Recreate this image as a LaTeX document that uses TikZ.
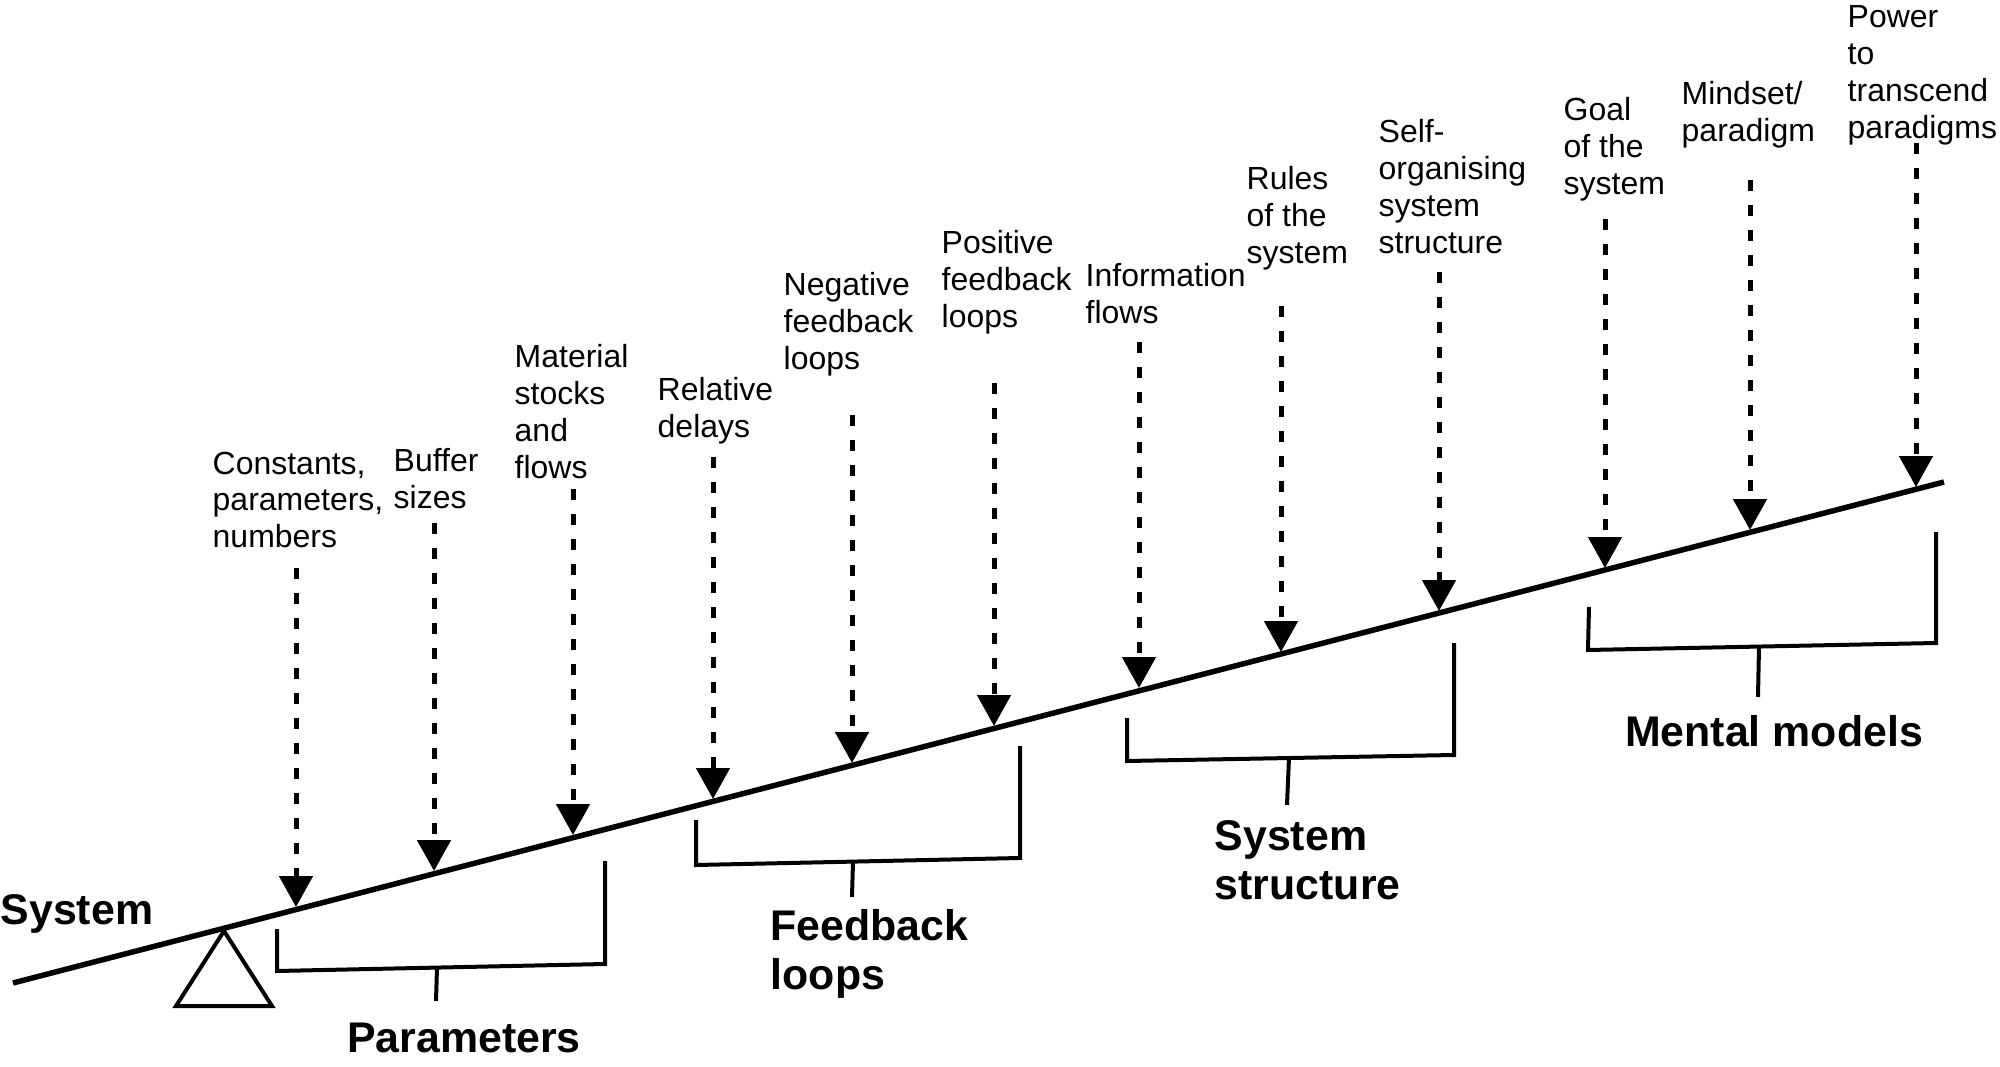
\documentclass[tikz,border=0pt]{standalone}
\usepackage{fontspec}
\setmainfont{Liberation Sans}
\usetikzlibrary{arrows.meta}

\begin{document}
\begin{tikzpicture}[x=0.1mm, y=-0.1mm,
  lbl/.style={anchor=north west, align=left, inner sep=0pt, font=\fontsize{9.1}{10.5}\selectfont},
  grp/.style={inner sep=0pt, align=left, font=\fontsize{12.2}{13.8}\selectfont\bfseries},
  arr/.style={-{Triangle[length=3.1mm,width=3.3mm]}, line width=0.5mm, dash pattern=on 1.1mm off 1.4mm},
  lever/.style={line width=0.55mm},
  brk/.style={line width=0.4mm, line join=miter}]
\useasboundingbox (0,0) rectangle (2000,1067);

% lever and fulcrum
\coordinate (l0) at (13,983);
\coordinate (l1) at (1944,482);
\draw[lever] (l0) -- (l1);
\draw[line width=0.4mm] (224,931) -- (272,1006) -- (176,1006) -- cycle;
\node[grp, anchor=base west] (sys) at (0,924) {System};

% leverage points
\node[lbl] (n1)  at (212,451)  {Constants,\\parameters,\\numbers};
\node[lbl] (n2)  at (393,448)  {Buffer\\sizes};
\node[lbl] (n3)  at (514,344)  {Material\\stocks\\and\\flows};
\node[lbl] (n4)  at (657,377)  {Relative\\delays};
\node[lbl] (n5)  at (783,272)  {Negative\\feedback\\loops};
\node[lbl] (n6)  at (941,230)  {Positive\\feedback\\loops};
\node[lbl] (n7)  at (1085,263) {Information\\flows};
\node[lbl] (n8)  at (1246,166) {Rules\\of the\\system};
\node[lbl] (n9)  at (1378,119) {Self-\\organising\\system\\structure};
\node[lbl] (n10) at (1563,97)  {Goal\\of the\\system};
\node[lbl] (n11) at (1681,81)  {Mindset/\\paradigm};
\node[lbl] (n12) at (1847,5)   {Power\\to\\transcend\\paradigms};

\coordinate (a1)  at (296,568);  \coordinate (t1)  at (296,907);
\coordinate (a2)  at (434,523);  \coordinate (t2)  at (434,871);
\coordinate (a3)  at (573,489);  \coordinate (t3)  at (573,835);
\coordinate (a4)  at (713,457);  \coordinate (t4)  at (713,799);
\coordinate (a5)  at (852,415);  \coordinate (t5)  at (852,763);
\coordinate (a6)  at (994,383);  \coordinate (t6)  at (994,726);
\coordinate (a7)  at (1139,342); \coordinate (t7)  at (1139,688);
\coordinate (a8)  at (1281,306); \coordinate (t8)  at (1281,652);
\coordinate (a9)  at (1439,272); \coordinate (t9)  at (1439,611);
\coordinate (a10) at (1605,219); \coordinate (t10) at (1605,568);
\coordinate (a11) at (1750,180); \coordinate (t11) at (1750,530);
\coordinate (a12) at (1916,143); \coordinate (t12) at (1916,487);

\draw[arr] (a1) -- (t1);
\draw[arr] (a2) -- (t2);
\draw[arr] (a3) -- (t3);
\draw[arr] (a4) -- (t4);
\draw[arr] (a5) -- (t5);
\draw[arr] (a6) -- (t6);
\draw[arr] (a7) -- (t7);
\draw[arr] (a8) -- (t8);
\draw[arr] (a9) -- (t9);
\draw[arr] (a10) -- (t10);
\draw[arr] (a11) -- (t11);
\draw[arr] (a12) -- (t12);

% groups
\draw[brk] (277,929) -- (277,971) -- (605,964) -- (605,861);
\draw[brk] (437,968) -- (436,1001);
\node[grp, anchor=base] (par) at (464,1052) {Parameters};

\draw[brk] (696,820) -- (696,865) -- (1020,858) -- (1020,746);
\draw[brk] (853,862) -- (852,897);
\node[grp, anchor=north west] (fbl) at (770,909) {Feedback\\loops};

\draw[brk] (1127,718) -- (1127,761) -- (1454,755) -- (1454,643);
\draw[brk] (1289,758) -- (1287,805);
\node[grp, anchor=north west] (sst) at (1214,820) {System\\structure};

\draw[brk] (1589,607) -- (1588,650) -- (1936,643) -- (1936,532);
\draw[brk] (1759,647) -- (1758,697);
\node[grp, anchor=base] (mm) at (1774,746) {Mental models};
\end{tikzpicture}
\end{document}
